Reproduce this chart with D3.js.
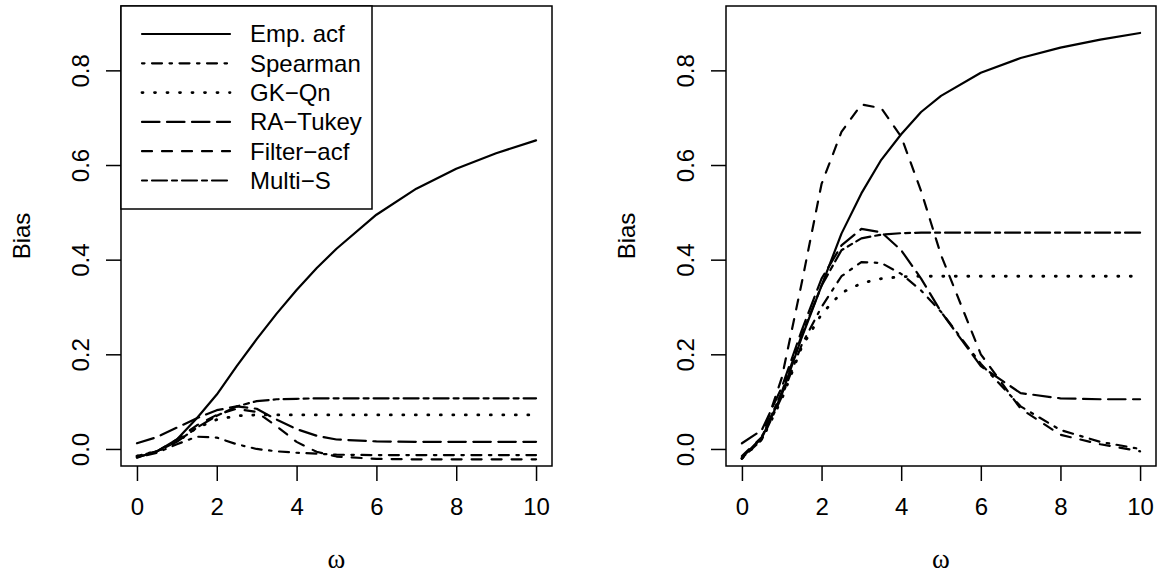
<!DOCTYPE html>
<html>
<head>
<meta charset="utf-8">
<script src="https://cdn.jsdelivr.net/npm/d3@7"></script>
<style>
  body { margin: 0; background: #fff; }
  svg { display: block; }
  text { font-family: "Liberation Sans", Arial, sans-serif; fill: #000; }
</style>
</head>
<body>
<div id="chart"></div>
<script>
// omega grid
const omega = [0, 0.5, 1, 1.5, 2, 2.5, 3, 3.5, 4, 4.5, 5, 6, 7, 8, 9, 10];

// left panel
const empLeft      = [-0.018, -0.005, 0.02, 0.065, 0.115, 0.175, 0.232, 0.286, 0.336, 0.382, 0.423, 0.495, 0.55, 0.592, 0.625, 0.652];
const spearmanLeft = [-0.018, -0.008, 0.01, 0.026, 0.024, 0.01, 0.0, -0.005, -0.008, -0.01, -0.012, -0.013, -0.013, -0.013, -0.013, -0.013];
const gkqnLeft     = [-0.015, -0.005, 0.015, 0.045, 0.062, 0.07, 0.072, 0.072, 0.072, 0.072, 0.072, 0.072, 0.072, 0.072, 0.072, 0.072];
const tukeyLeft    = [0.012, 0.025, 0.045, 0.065, 0.082, 0.09, 0.085, 0.062, 0.042, 0.028, 0.02, 0.016, 0.015, 0.015, 0.015, 0.015];
const filterLeft   = [-0.018, -0.005, 0.02, 0.05, 0.072, 0.085, 0.078, 0.048, 0.015, -0.006, -0.016, -0.021, -0.022, -0.022, -0.022, -0.022];
const multiLeft    = [-0.015, -0.005, 0.015, 0.045, 0.07, 0.09, 0.101, 0.105, 0.106, 0.107, 0.107, 0.107, 0.107, 0.107, 0.107, 0.107];

// right panel
const empRight      = [-0.018, 0.023, 0.115, 0.235, 0.345, 0.455, 0.54, 0.611, 0.665, 0.712, 0.746, 0.795, 0.826, 0.848, 0.865, 0.879];
const spearmanRight = [-0.02, 0.02, 0.11, 0.22, 0.3, 0.365, 0.395, 0.393, 0.37, 0.335, 0.29, 0.18, 0.09, 0.04, 0.015, 0.0];
const gkqnRight     = [-0.02, 0.02, 0.105, 0.215, 0.285, 0.33, 0.35, 0.36, 0.364, 0.365, 0.365, 0.365, 0.365, 0.365, 0.365, 0.365];
const tukeyRight    = [0.012, 0.04, 0.13, 0.25, 0.36, 0.43, 0.465, 0.458, 0.42, 0.36, 0.29, 0.175, 0.118, 0.107, 0.105, 0.105];
const filterRight   = [-0.015, 0.025, 0.15, 0.35, 0.56, 0.67, 0.728, 0.72, 0.66, 0.545, 0.41, 0.2, 0.085, 0.03, 0.01, -0.005];
const multiRight    = [-0.02, 0.025, 0.12, 0.24, 0.345, 0.42, 0.445, 0.453, 0.456, 0.457, 0.457, 0.457, 0.457, 0.457, 0.457, 0.457];

const methods = ["Emp. acf", "Spearman", "GK\u2212Qn", "RA\u2212Tukey", "Filter\u2212acf", "Multi\u2212S"];
const xTicks = [0, 2, 4, 6, 8, 10];
const yTicks = [0, 0.2, 0.4, 0.6, 0.8];

// R line types (lty 1,4,3,5,2,6)
const u = 2.5;
const dashes = [null, [1, 3, 4, 3], [0.4, 4.6], [7, 3], [4, 4], [2, 2, 6, 2]]
  .map(d => d ? d.map(v => v * u).join(" ") : null);

const width = 1160, height = 578;
const svg = d3.select("#chart").append("svg")
  .attr("width", width)
  .attr("height", height);

const y = d3.scaleLinear().domain([-0.036, 0.936]).range([466, 6]);

function drawPanel(left, right, series, withLegend) {
  const x = d3.scaleLinear().domain([-0.4, 10.4]).range([left, right]);
  const g = svg.append("g");

  const line = d3.line()
    .x(d => x(d[0]))
    .y(d => y(d[1]));

  series.forEach((vals, i) => {
    g.append("path")
      .datum(omega.map((w, k) => [w, vals[k]]))
      .attr("d", line)
      .attr("fill", "none")
      .attr("stroke", "#000")
      .attr("stroke-width", i == 2 ? 2.8 : 2.2)
      .attr("stroke-linecap", "round")
      .attr("stroke-linejoin", "round")
      .attr("stroke-dasharray", dashes[i]);
  });

  // box
  g.append("rect")
    .attr("x", left).attr("y", 6)
    .attr("width", right - left).attr("height", 460)
    .attr("fill", "none").attr("stroke", "#000").attr("stroke-width", 1.5);

  // x axis
  const xa = g.append("g")
    .attr("transform", "translate(0,466)")
    .call(d3.axisBottom(x).tickValues(xTicks).tickSize(15).tickSizeOuter(0).tickFormat(d3.format("d")));
  xa.select(".domain").remove();
  xa.selectAll("line").attr("stroke-width", 1.5);
  xa.selectAll("text")
    .attr("y", 49).attr("dy", null)
    .style("font-size", "24px")
    .style("font-family", "Liberation Sans, Arial, sans-serif");

  // y axis
  const ya = g.append("g")
    .attr("transform", `translate(${left},0)`)
    .call(d3.axisLeft(y).tickValues(yTicks).tickSize(15).tickSizeOuter(0).tickFormat(d3.format(".1f")));
  ya.select(".domain").remove();
  ya.selectAll("line").attr("stroke-width", 1.5);
  ya.selectAll("text")
    .attr("x", 0).attr("y", 0).attr("dy", null)
    .attr("text-anchor", "middle")
    .attr("transform", "translate(-32,0) rotate(-90)")
    .style("font-size", "24px")
    .style("font-family", "Liberation Sans, Arial, sans-serif");

  // axis titles
  g.append("text")
    .attr("transform", `translate(${left - 91},236) rotate(-90)`)
    .attr("text-anchor", "middle")
    .style("font-size", "24px")
    .text("Bias");

  g.append("text")
    .attr("x", (left + right) / 2)
    .attr("y", 568)
    .attr("text-anchor", "middle")
    .style("font-size", "27px")
    .style("font-family", "Liberation Serif, 'DejaVu Serif', serif")
    .text("\u03c9");

  if (withLegend) {
    const lg = g.append("g");
    lg.append("rect")
      .attr("x", left).attr("y", 6)
      .attr("width", 251).attr("height", 203)
      .attr("fill", "#fff").attr("stroke", "#000").attr("stroke-width", 1.5);
    methods.forEach((m, i) => {
      const yy = 34 + i * 29.3;
      lg.append("line")
        .attr("x1", 142).attr("x2", 230)
        .attr("y1", yy).attr("y2", yy)
        .attr("stroke", "#000").attr("stroke-width", i == 2 ? 2.8 : 2.2)
        .attr("stroke-linecap", "round")
        .attr("stroke-dasharray", dashes[i]);
      lg.append("text")
        .attr("x", 250).attr("y", yy)
        .attr("dy", "0.35em")
        .style("font-size", "24px")
        .text(m);
    });
  }
}

drawPanel(121, 552, [empLeft, spearmanLeft, gkqnLeft, tukeyLeft, filterLeft, multiLeft], true);
drawPanel(726, 1156, [empRight, spearmanRight, gkqnRight, tukeyRight, filterRight, multiRight], false);
</script>
</body>
</html>
